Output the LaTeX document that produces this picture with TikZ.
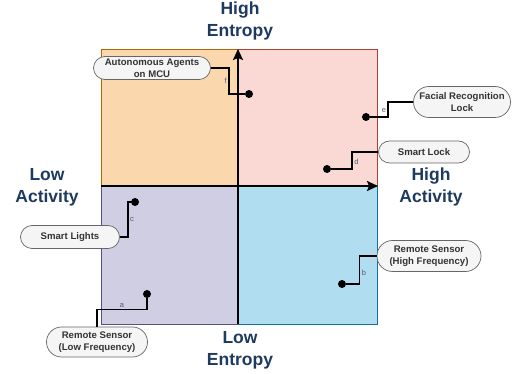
\documentclass[tikz,border=0pt]{standalone}
\usepackage{fontspec}
\setmainfont{Liberation Sans}[BoldFont={Liberation Sans Bold}]
\newfontfamily\boldsans{Liberation Sans Bold}
\usetikzlibrary{shapes.misc,arrows.meta}
\definecolor{tlfill}{HTML}{FAD7AC}
\definecolor{tlline}{HTML}{B46504}
\definecolor{trfill}{HTML}{FAD9D5}
\definecolor{trline}{HTML}{AE4132}
\definecolor{blfill}{HTML}{D0CEE2}
\definecolor{blline}{HTML}{56517E}
\definecolor{brfill}{HTML}{B1DDF0}
\definecolor{brline}{HTML}{10739E}
\definecolor{axistext}{HTML}{1F3A60}
\definecolor{pillfill}{HTML}{F5F5F5}
\definecolor{pillline}{HTML}{666666}
\definecolor{pilltext}{HTML}{333333}
\definecolor{lbltext}{HTML}{4A5A80}
\begin{document}
\begin{tikzpicture}[x=1pt,y=-1pt,
  axislbl/.style={font=\boldsans\fontsize{17.5}{22}\selectfont, text=axistext, align=center, inner sep=0pt},
  pill/.style={rounded rectangle, draw=pillline, fill=pillfill, line width=0.7pt, inner sep=0pt,
    font=\boldsans\fontsize{9.6}{12}\selectfont, text=pilltext, align=center},
  dot/.style={circle, fill=black, inner sep=0pt, minimum size=8pt},
  conn/.style={draw=black, line width=1.4pt},
  lbl/.style={font=\fontsize{7.5}{8}\selectfont, text=lbltext, inner sep=1.5pt},
  axisline/.style={draw=black, line width=2pt, -{Stealth[length=11pt,width=10pt,inset=2pt]}}]
\useasboundingbox (0,0) rectangle (512,374);
% quadrants
\path[fill=tlfill, draw=tlline, line width=0.8pt] (101,49) rectangle (238,186);
\path[fill=trfill, draw=trline, line width=0.8pt] (238,49) rectangle (377,186);
\path[fill=blfill, draw=blline, line width=0.8pt] (101,186) rectangle (238,324);
\path[fill=brfill, draw=brline, line width=0.8pt] (238,186) rectangle (377,324);
% axes
\coordinate (vbot) at (238,324);
\coordinate (vtop) at (238,49);
\coordinate (hleft) at (101,186);
\coordinate (hright) at (378,186);
\draw[axisline] (vbot) -- (vtop);
\draw[axisline] (hleft) -- (hright);
% axis labels
\node[axislbl] (hient) at (240,21) {High\\Entropy};
\node[axislbl] (loent) at (240,350) {Low\\Entropy};
\node[axislbl] (loact) at (47,187) {Low\\Activity};
\node[axislbl] (hiact) at (431,187) {High\\Activity};
% dots
\node[dot] (dotf) at (249,94) {};
\node[dot] (dote) at (366,117) {};
\node[dot] (dotd) at (327,169) {};
\node[dot] (dotc) at (135,202) {};
\node[dot] (dotb) at (342,284) {};
\node[dot] (dota) at (147,294) {};
% pills
\node[pill, minimum width=117pt, minimum height=23pt] (agents) at (152,68) {Autonomous Agents\\on MCU};
\node[pill, minimum width=97pt, minimum height=31pt] (facial) at (462,102) {Facial Recognition\\Lock};
\node[pill, minimum width=91pt, minimum height=22pt] (slock) at (424,152) {Smart Lock};
\node[pill, minimum width=99pt, minimum height=23pt] (lights) at (70,237) {Smart Lights};
\node[pill, minimum width=104pt, minimum height=31pt] (rsh) at (429,256) {Remote Sensor\\(High Frequency)};
\node[pill, minimum width=101pt, minimum height=30pt] (rsl) at (97,342) {Remote Sensor\\(Low Frequency)};
% connectors
\draw[conn] (agents.east) -- ++(18,0) |- node[lbl, pos=0.25, left] {f} (dotf);
\draw[conn] (facial.west) -- ++(-25,0) |- node[lbl, pos=0.3, left] {e} (dote);
\draw[conn] (slock.west) -- ++(-26,0) |- node[lbl, pos=0.3, right] {d} (dotd);
\draw[conn] (lights.east) -- ++(8,0) |- node[lbl, pos=0.25, right] {c} (dotc);
\draw[conn] (rsh.west) -- ++(-17,0) |- node[lbl, pos=0.3, right] {b} (dotb);
\draw[conn] (rsl.north) -- ++(0,-17) -| node[lbl, pos=0.25, above] {a} (dota);
\end{tikzpicture}
\end{document}
